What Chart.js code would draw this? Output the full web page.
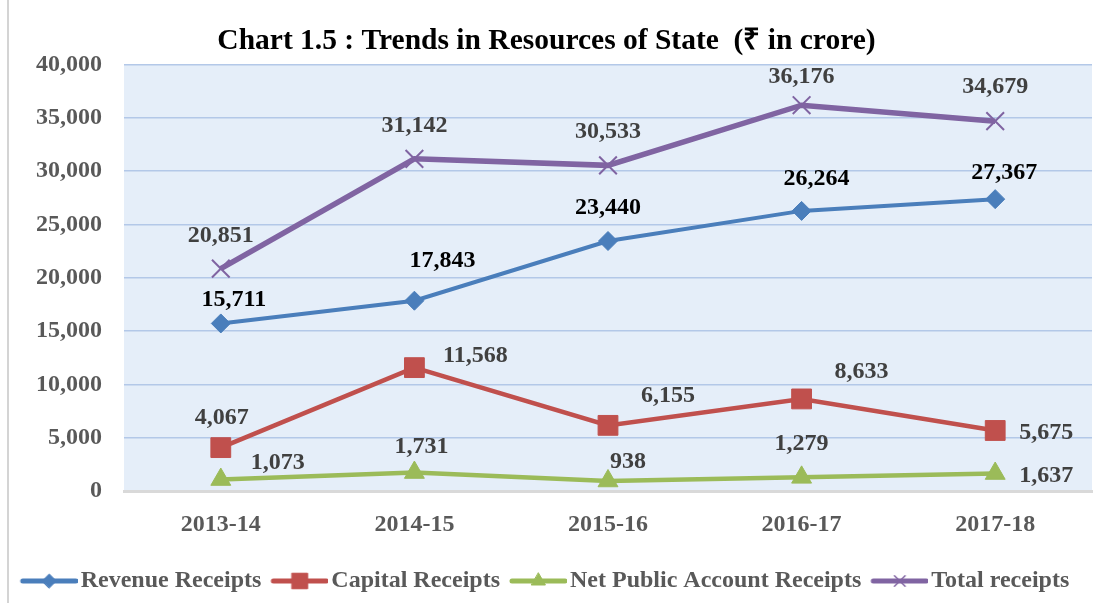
<!DOCTYPE html>
<html>
<head>
<meta charset="utf-8">
<script src="https://cdn.jsdelivr.net/npm/chart.js@4"></script>
<style>
body{margin:0;background:#fff}
</style>
</head>
<body>
<canvas id="chart" width="1107" height="603"></canvas>
<script>

const years=["2013-14","2014-15","2015-16","2016-17","2017-18"]

const revenue=[15711,17843,23440,26264,27367]
const capital=[4067,11568,6155,8633,5675]
const netPublic=[1073,1731,938,1279,1637]
const total=[20851,31142,30533,36176,34679]

const seriesNames=["Revenue Receipts","Capital Receipts","Net Public Account Receipts","Total receipts"]

// where each value label sits, relative to its point
const revenueLabelPos=[[13,-24],[28,-40],[0,-33],[15,-32],[9,-26]]
const capitalLabelPos=[[1,-30],[61,-12],[60,-30],[60,-27],[51,2]]
const netPublicLabelPos=[[57,-17],[7,-26],[20,-19],[0,-34],[51,2]]
const totalLabelPos=[[0,-33],[0,-33],[0,-34],[0,-28],[0,-34]]

const FONT="'Liberation Serif','Times New Roman',serif"

function legendSample(color,style,radius,lineW){
  const c=document.createElement("canvas")
  c.width=63
  c.height=24
  const g=c.getContext("2d")
  g.strokeStyle=color
  g.fillStyle=color
  g.lineWidth=lineW
  g.lineCap="round"
  g.beginPath()
  g.moveTo(8,12)
  g.lineTo(61,12)
  g.stroke()
  g.lineWidth=style==="crossRot"?1.5:1
  Chart.helpers.drawPoint(g,{pointStyle:style,radius:radius,rotation:0,borderWidth:g.lineWidth},34.5,12)
  return c
}

const samples=[
  legendSample("#4a7ebb","rectRot",7,5),
  legendSample("#c0504d","rect",11,5),
  legendSample("#9bbb59","triangle",8,5),
  legendSample("#8064a2","crossRot",7.5,5)
]

const frame={
  id:"frame",
  beforeDraw(chart){
    const ctx=chart.ctx
    const a=chart.chartArea
    ctx.save()
    ctx.fillStyle="#fff"
    ctx.fillRect(0,0,chart.width,chart.height)
    ctx.fillStyle="#e5eef9"
    ctx.fillRect(a.left,a.top,a.right-a.left,a.bottom-a.top)
    ctx.fillStyle="#d4d4d4"
    ctx.fillRect(7,0,2,chart.height)
    ctx.restore()
  }
}

const pointLabels={
  id:"pointLabels",
  afterDatasetsDraw(chart){
    const ctx=chart.ctx
    ctx.save()
    ctx.font="bold 24px "+FONT
    ctx.textAlign="center"
    ctx.textBaseline="middle"
    chart.data.datasets.forEach((ds,i)=>{
      const meta=chart.getDatasetMeta(i)
      meta.data.forEach((pt,j)=>{
        const off=ds.labelPos[j]
        ctx.fillStyle=ds.labelColor
        ctx.fillText(ds.data[j].toLocaleString("en-US"),pt.x+off[0],pt.y+off[1])
      })
    })
    ctx.restore()
  }
}

new Chart(document.getElementById("chart"),{
  type:"line",
  data:{
    labels:years,
    datasets:[
      {
        label:seriesNames[0],
        data:revenue,
        borderColor:"#4a7ebb",
        backgroundColor:"#4a7ebb",
        borderWidth:4,
        pointStyle:"rectRot",
        pointRadius:9.5,
        pointBorderWidth:1,
        labelPos:revenueLabelPos,
        labelColor:"#000"
      },
      {
        label:seriesNames[1],
        data:capital,
        borderColor:"#c0504d",
        backgroundColor:"#c0504d",
        borderWidth:4.5,
        pointStyle:"rect",
        pointRadius:14,
        pointBorderWidth:1,
        labelPos:capitalLabelPos,
        labelColor:"#404040"
      },
      {
        label:seriesNames[2],
        data:netPublic,
        borderColor:"#9bbb59",
        backgroundColor:"#9bbb59",
        borderWidth:4.5,
        pointStyle:"triangle",
        pointRadius:11.5,
        pointBorderWidth:1,
        labelPos:netPublicLabelPos,
        labelColor:"#404040"
      },
      {
        label:seriesNames[3],
        data:total,
        borderColor:"#8064a2",
        backgroundColor:"#8064a2",
        borderWidth:5.5,
        pointStyle:"crossRot",
        pointRadius:12.5,
        pointBorderWidth:2,
        labelPos:totalLabelPos,
        labelColor:"#404040"
      }
    ]
  },
  options:{
    responsive:false,
    animation:false,
    layout:{padding:{left:0,right:14,top:0,bottom:0}},
    plugins:{
      title:{
        display:true,
        text:"Chart 1.5 : Trends in Resources of State  (\u20b9 in crore)",
        color:"#000",
        font:{family:FONT,size:29.5,weight:"bold",lineHeight:1.2},
        padding:{top:24,bottom:5}
      },
      legend:{
        position:"bottom",
        labels:{
          usePointStyle:true,
          pointStyleWidth:45,
          padding:13,
          color:"#595959",
          font:{family:FONT,size:24,weight:"bold",lineHeight:1},
          generateLabels(chart){
            const items=Chart.defaults.plugins.legend.labels.generateLabels(chart)
            items.forEach((it,i)=>{it.pointStyle=samples[i]})
            return items
          }
        }
      },
      tooltip:{enabled:false}
    },
    scales:{
      x:{
        offset:true,
        grid:{display:false},
        border:{display:true,color:"#d9d9d9",width:3},
        ticks:{color:"#595959",padding:11,font:{family:FONT,size:24,weight:"bold"}},
        afterFit(s){s.height=65}
      },
      y:{
        min:0,
        max:40000,
        grid:{
          drawTicks:false,
          color:c=>c.tick.value===0?"rgba(0,0,0,0)":"#b3c8e8",
          lineWidth:1.5
        },
        border:{display:false},
        ticks:{
          stepSize:5000,
          padding:22,
          color:"#595959",
          font:{family:FONT,size:24,weight:"bold"},
          callback:v=>v.toLocaleString("en-US")
        },
        afterFit(s){s.width=124}
      }
    }
  },
  plugins:[frame,pointLabels]
})

</script>
</body>
</html>
